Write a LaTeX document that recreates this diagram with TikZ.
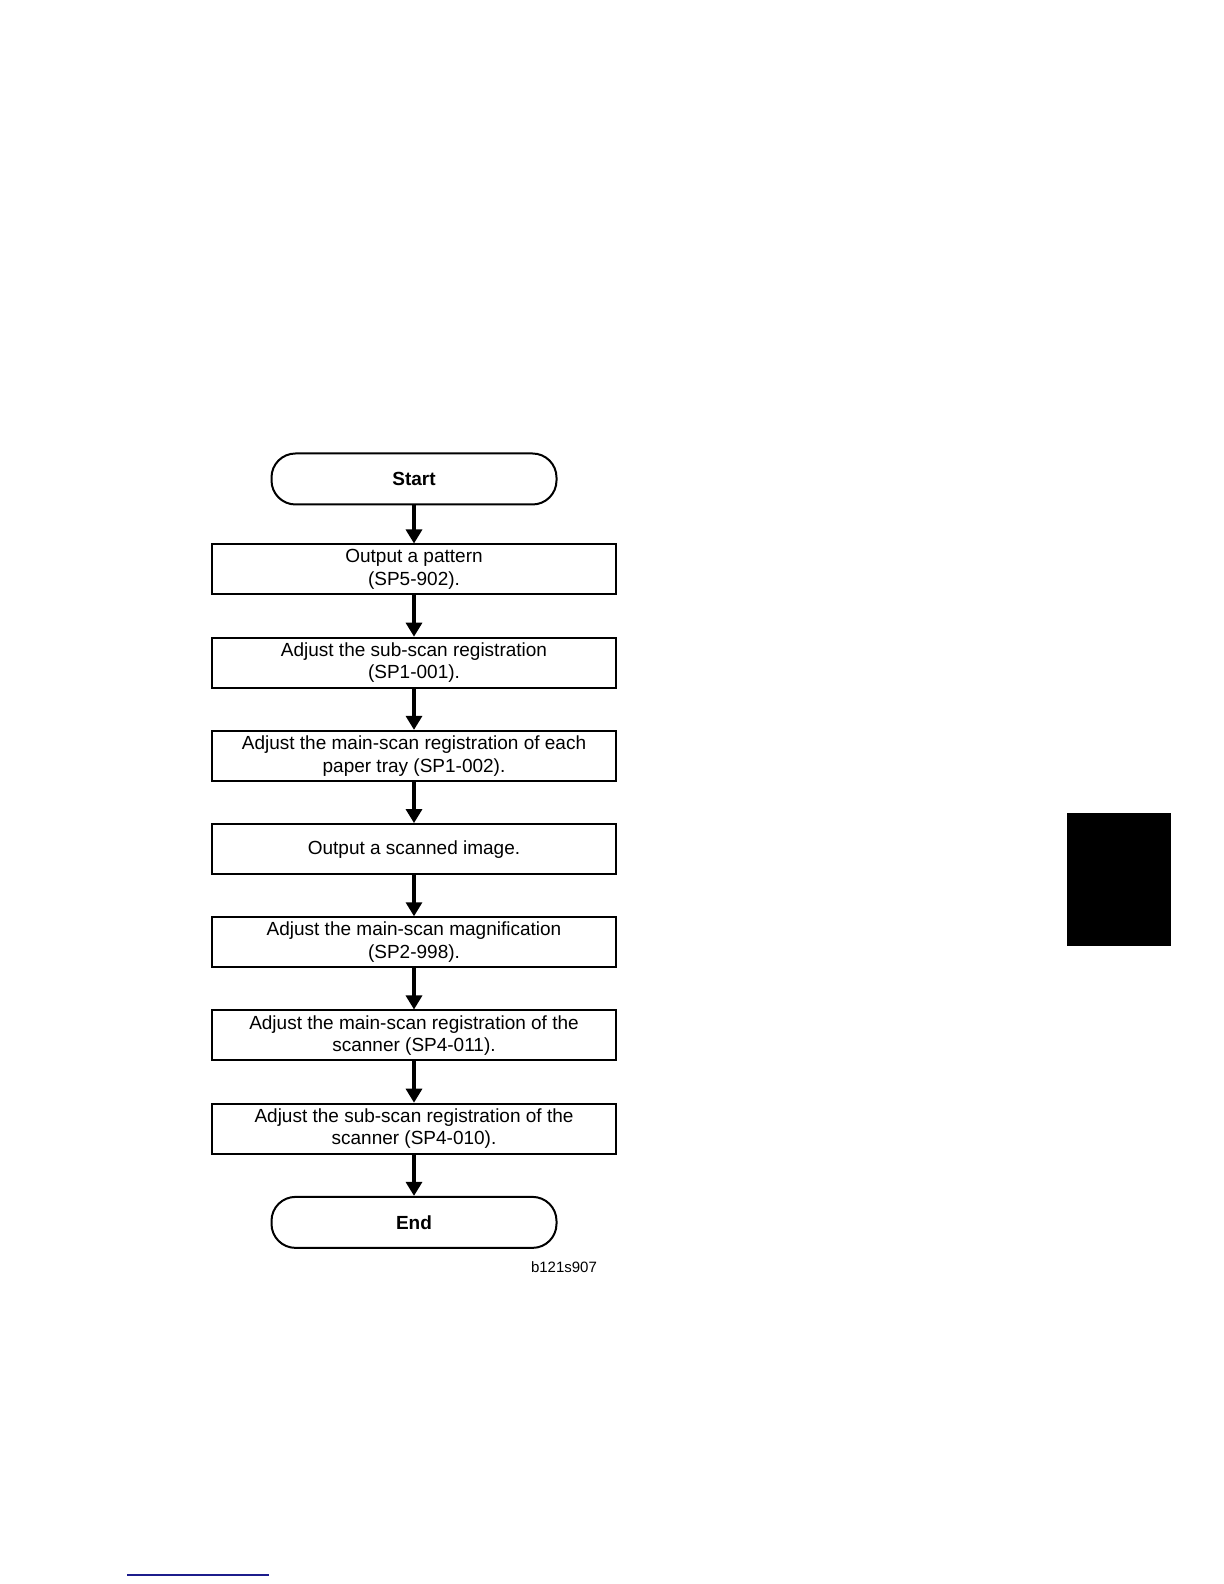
\documentclass[tikz,border=0pt]{standalone}
\usepackage{fontspec}
\setmainfont{Liberation Sans}
\usetikzlibrary{positioning,arrows.meta}
\definecolor{linkblue}{HTML}{1C1C8C}
\tikzset{
  term/.style={rectangle, rounded corners=12pt, draw, line width=1pt,
               minimum width=142.5pt, minimum height=25.5pt,
               font=\bfseries\fontsize{9.5}{11}\selectfont},
  stepbox/.style={rectangle, draw, line width=1pt, minimum width=202pt,
                  minimum height=25pt, align=center, inner sep=1pt,
                  font=\fontsize{9.5}{11.3}\selectfont},
  ar/.style={-{Triangle[length=7pt,width=8pt]}, line width=1.6pt},
}
\begin{document}
\begin{tikzpicture}[x=0.5pt,y=0.5pt,node distance=20.6pt]
  \useasboundingbox (0,0) rectangle (1224,1584);

  % flow
  \node[term] (start) at (414,1105) {Start};
  \node[stepbox, below=19pt of start] (s1) {Output a pattern\\(SP5-902).};
  \node[stepbox, below=of s1] (s2) {Adjust the sub-scan registration\\(SP1-001).};
  \node[stepbox, below=of s2] (s3) {Adjust the main-scan registration of each\\paper tray (SP1-002).};
  \node[stepbox, below=of s3] (s4) {Output a scanned image.};
  \node[stepbox, below=of s4] (s5) {Adjust the main-scan magnification\\(SP2-998).};
  \node[stepbox, below=of s5] (s6) {Adjust the main-scan registration of the\\scanner (SP4-011).};
  \node[stepbox, below=of s6] (s7) {Adjust the sub-scan registration of the\\scanner (SP4-010).};
  \node[term, below=of s7] (end) {End};
  \node[anchor=east, font=\fontsize{7.5}{9}\selectfont] (fig) at (604,317) {b121s907};

  % arrows
  \draw[ar] (start) -- (s1);
  \draw[ar] (s1) -- (s2);
  \draw[ar] (s2) -- (s3);
  \draw[ar] (s3) -- (s4);
  \draw[ar] (s4) -- (s5);
  \draw[ar] (s5) -- (s6);
  \draw[ar] (s6) -- (s7);
  \draw[ar] (s7) -- (end);

  % page marks
  \fill[black] (1067,638) rectangle (1171,771);
  \draw[linkblue, line width=1pt] (127,9) -- (269,9);
\end{tikzpicture}
\end{document}
